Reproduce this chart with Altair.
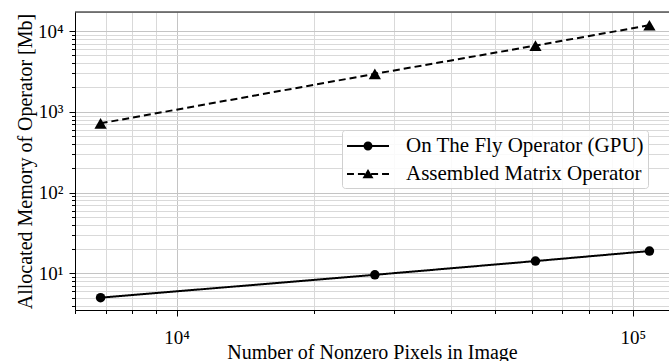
import altair as alt
import pandas as pd

# ---- data ----
pixels = [6810, 27200, 61200, 108800]
on_the_fly = [5.0, 9.6, 14.2, 18.9]
assembled = [720, 2950, 6600, 11800]
series_names = ["On The Fly Operator (GPU)", "Assembled Matrix Operator"]

x_ticks = [6000, 7000, 8000, 9000, 10000, 20000, 30000, 40000, 50000,
           60000, 70000, 80000, 90000, 100000]
y_ticks = [4, 5, 6, 7, 8, 9, 10, 20, 30, 40, 50, 60, 70, 80, 90, 100,
           200, 300, 400, 500, 600, 700, 800, 900, 1000, 2000, 3000, 4000,
           5000, 6000, 7000, 8000, 9000, 10000]
x_domain = [5985, 120100]
y_domain = [3.52, 17200]

rows = []
for name, vals in zip(series_names, [on_the_fly, assembled]):
    for p, v in zip(pixels, vals):
        rows.append({"pixels": p, "memory": v, "series": name})
df = pd.DataFrame(rows)

FONT = "Liberation Serif"
MAJOR = "abs(log(datum.value)/LN10 - round(log(datum.value)/LN10)) < 1e-6"
LABEL = ("(" + MAJOR + ") ? '10' + ['\u2070','\u00b9','\u00b2','\u00b3','\u2074','\u2075','\u2076'][round(log(datum.value)/LN10)] : ''")


def make_axis(values, **kw):
    return alt.Axis(
        values=values,
        labelExpr=LABEL,
        labelFont=FONT,
        labelFontSize=19,
        labelColor="black",
        titleFont=FONT,
        titleFontSize=20,
        titleFontWeight="normal",
        titleColor="black",
        domainColor="black",
        domainWidth=1,
        tickColor="black",
        tickWidth=1,
        tickSize={"condition": {"test": MAJOR, "value": 6}, "value": 3.5},
        grid=True,
        gridColor={"condition": {"test": MAJOR, "value": "#c4c4c4"}, "value": "#d9d9d9"},
        gridWidth=1,
        labelFlush=False,
        labelOverlap=False,
        **kw,
    )


x_enc = alt.X("pixels:Q",
              scale=alt.Scale(type="log", domain=x_domain, nice=False),
              axis=make_axis(x_ticks, labelPadding=12, titleBaseline="alphabetic", titleY=48),
              title="Number of Nonzero Pixels in Image")
y_enc = alt.Y("memory:Q",
              scale=alt.Scale(type="log", domain=y_domain, nice=False),
              axis=make_axis(y_ticks, labelPadding=6, titlePadding=2),
              title="Allocated Memory of Operator [Mb]")

solid_path = ("M-1.75,-0.083H1.75V0.083H-1.75Z "
              "M0.375,0A0.375,0.375,0,1,1,-0.375,0A0.375,0.375,0,1,1,0.375,0Z")
dashed_path = ("M-1.75,-0.083H-1.17V0.083H-1.75Z "
               "M-0.84,-0.083H-0.26V0.083H-0.84Z "
               "M0.26,-0.083H0.84V0.083H0.26Z "
               "M1.17,-0.083H1.75V0.083H1.17Z "
               "M0,-0.42L0.46,0.36L-0.46,0.36Z")

legend = alt.Legend(
    orient="none", legendX=267, legendY=118, title=None,
    labelFont=FONT, labelFontSize=21, labelColor="black", labelLimit=600,
    labelExpr="datum.label + '\u00a0\u00a0\u00a0\u00a0'",
    symbolSize=576, symbolOffset=10, labelOffset=26,
    symbolFillColor="black", symbolStrokeColor="black", symbolStrokeWidth=0,
    symbolOpacity=1,
    padding=4, rowPadding=6,
    strokeColor="#d0d0d0", fillColor="rgba(255,255,255,0.85)", cornerRadius=3,
)

lines = alt.Chart(df).mark_line(color="black", strokeWidth=2).encode(
    x=x_enc, y=y_enc,
    strokeDash=alt.StrokeDash("series:N",
                              scale=alt.Scale(domain=series_names, range=[[1, 0], [7, 4]]),
                              legend=None),
)

points = alt.Chart(df).mark_point(filled=True, color="black", opacity=1).encode(
    x=x_enc, y=y_enc,
    shape=alt.Shape("series:N",
                    scale=alt.Scale(domain=series_names, range=["circle", "triangle-up"]),
                    legend=None),
    size=alt.Size("series:N",
                  scale=alt.Scale(domain=series_names, range=[90, 150]),
                  legend=None),
)

legend_layer = alt.Chart(df).transform_filter("false").mark_point(
    filled=True, color="black", opacity=1
).encode(
    shape=alt.Shape("series:N",
                    scale=alt.Scale(domain=series_names, range=[solid_path, dashed_path]),
                    legend=legend),
)

top_spine = alt.Chart(pd.DataFrame({"a": [0]})).mark_rule(color="black", strokeWidth=1).encode(
    x=alt.value(0), x2=alt.value(594), y=alt.value(0)
)

chart = alt.layer(lines, points, legend_layer, top_spine).resolve_scale(
    shape="independent"
).properties(
    width=594, height=298,
    autosize=alt.AutoSizeParams(type="none"),
    padding={"left": 75, "top": 12, "right": 0, "bottom": 51},
).configure_view(stroke=None).configure(background="white")

chart.save("out.html", embed_options={"renderer": "svg", "actions": False})
